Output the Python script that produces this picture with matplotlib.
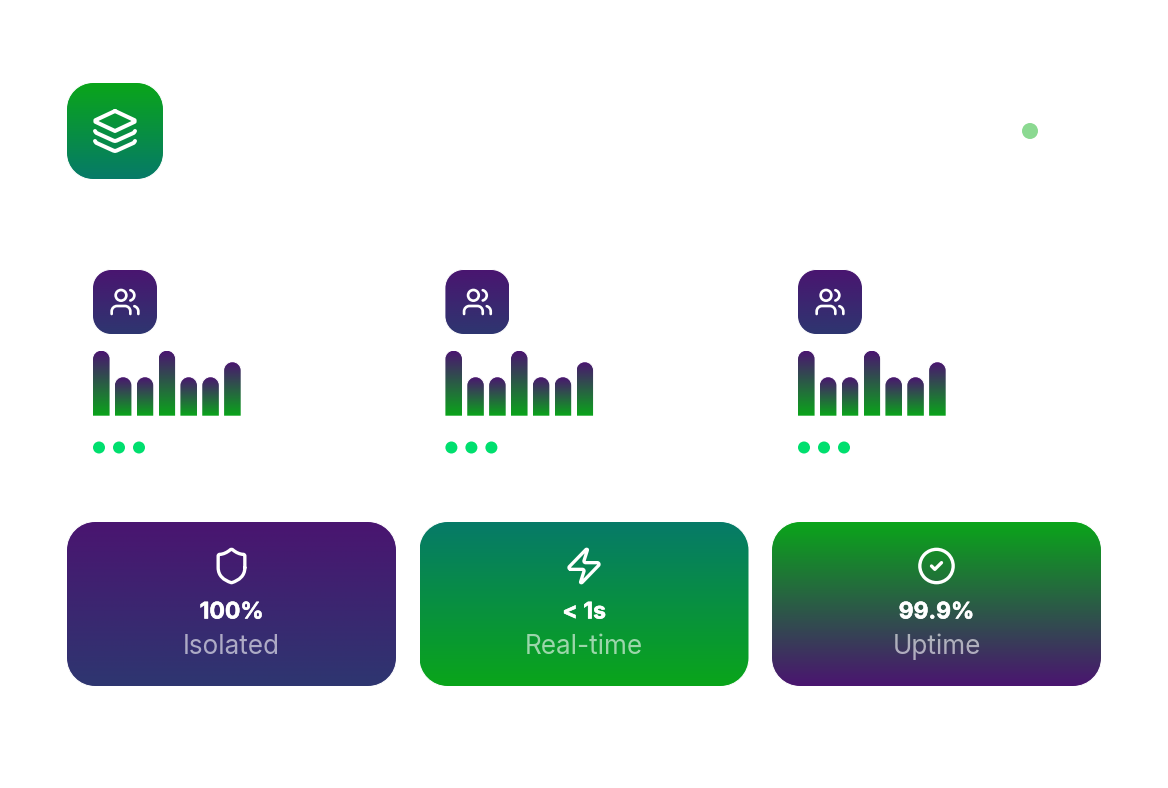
#!/usr/bin/env python
import numpy as np
from matplotlib import pyplot as plt
from matplotlib import patheffects as pe
from matplotlib.colors import to_rgb
from matplotlib.patches import Circle, PathPatch
from matplotlib.path import Path

PURPLE = "#4a1570"
INDIGO = "#2e3670"
GREEN = "#0aa51a"
TEAL = "#067a68"

bar_heights = [65, 38.5, 38.5, 65, 38.5, 38.5, 53.5]
card_values = ["100%", "< 1s", "99.9%"]
card_labels = ["Isolated", "Real-time", "Uptime"]
card_colors = [(PURPLE, INDIGO), (TEAL, GREEN), (GREEN, PURPLE)]
panel_lefts = [93, 445.4, 798]
card_lefts = [67, 419.5, 772]

plt.rcParams['font.family'] = ['Inter', 'DejaVu Sans']

fig = plt.figure(figsize=(11.68, 7.88), dpi=100)
ax = fig.add_axes([0, 0, 1, 1])


def gradient(top, bottom):
    t = np.linspace(0, 1, 256)[:, None, None]
    return (1 - t) * np.array(to_rgb(top))[None, None, :] + t * np.array(to_rgb(bottom))[None, None, :]


def curve(start, *segs):
    verts = [start]
    codes = [Path.MOVETO]
    for s in segs:
        if len(s) == 2:
            verts.append(s)
            codes.append(Path.LINETO)
        else:
            verts += [s[:2], s[2:4], s[4:6]]
            codes += [Path.CURVE4] * 3
    return Path(verts, codes)


def round_rect(x0, y0, x1, y1, rt, rb):
    kt = rt * 0.448
    kb = rb * 0.448
    return curve((x0 + rt, y0), (x1 - rt, y0), (x1 - kt, y0, x1, y0 + kt, x1, y0 + rt),
                 (x1, y1 - rb), (x1, y1 - kb, x1 - kb, y1, x1 - rb, y1),
                 (x0 + rb, y1), (x0 + kb, y1, x0, y1 - kb, x0, y1 - rb),
                 (x0, y0 + rt), (x0, y0 + kt, x0 + kt, y0, x0 + rt, y0))


def fill_gradient(x0, y0, x1, y1, rt, rb, top, bottom):
    # clip a bit outside, then a white line on top gives a smooth edge
    shape = round_rect(x0 - 0.5, y0 - 0.5, x1 + 0.5, y1 + 0.5, rt + 0.5, rb + 0.5 if rb else 0)
    clip = PathPatch(shape, fc="none", ec="white", lw=0.72, zorder=3)
    ax.add_patch(clip)
    im = ax.imshow(gradient(top, bottom), extent=(x0, x1, y1, y0), aspect="auto", interpolation="bilinear", zorder=2)
    im.set_clip_path(clip)


def stroke(path, x0, y0, scale, lw):
    # icon paths are in a 24 unit box
    verts = path.vertices * scale + np.array([x0, y0])
    ax.add_patch(PathPatch(Path(verts, path.codes), fc="none", ec="white", lw=lw * 0.72,
                           capstyle="round", joinstyle="round", zorder=4))


def circle_path(cx, cy, r):
    c = Path.unit_circle()
    return Path(c.vertices * r + np.array([cx, cy]), c.codes)


layers_icon = [
    Path([(12, 2), (2.2, 6.6), (2.2, 7.4), (12, 12), (21.8, 7.4), (21.8, 6.6), (12, 2)]),
    curve((2, 12), (2.6, 12.9), (11.2, 16.8), (12, 17), (12.8, 16.8), (21.4, 12.9), (22, 12)),
    curve((2, 17), (2.6, 17.9), (11.2, 21.8), (12, 22), (12.8, 21.8), (21.4, 17.9), (22, 17)),
]
users_icon = [
    curve((16, 21), (16, 19), (16, 16.8, 14.2, 15, 12, 15), (6, 15), (3.8, 15, 2, 16.8, 2, 19), (2, 21)),
    circle_path(9, 7, 4),
    curve((22, 21), (22, 19), (22, 17.2, 20.7, 15.6, 19, 15.13)),
    curve((16, 3.13), (17.8, 3.6, 19, 5.2, 19, 7), (19, 8.8, 17.8, 10.4, 16, 10.88)),
]
shield_icon = [
    curve((20, 13), (20, 18, 16.5, 20.5, 12.34, 21.95), (12.1, 22, 11.9, 22, 11.67, 21.94),
          (7.5, 20.5, 4, 18, 4, 13), (4, 6), (4, 5.4, 4.4, 5, 5, 5), (7, 5, 9.5, 3.8, 11.24, 2.28),
          (11.7, 1.9, 12.3, 1.9, 12.76, 2.28), (14.51, 3.81, 17, 5, 19, 5), (19.6, 5, 20, 5.4, 20, 6), (20, 13)),
]
bolt_icon = [
    curve((4, 14), (3.1, 14, 2.7, 12.9, 3.22, 12.37), (13.12, 2.17), (13.6, 1.7, 14.3, 2.1, 13.98, 2.63),
          (12.06, 8.65), (11.8, 9.3, 12.2, 10, 13, 10), (20, 10), (20.9, 10, 21.3, 11.1, 20.78, 11.63),
          (10.88, 21.83), (10.4, 22.3, 9.7, 21.9, 10.02, 21.37), (11.94, 15.35), (12.2, 14.7, 11.8, 14, 11, 14), (4, 14)),
]
check_icon = [circle_path(12, 12, 10), Path([(9, 12), (11, 14), (15, 10)])]
card_icons = [shield_icon, bolt_icon, check_icon]

# header
fill_gradient(67, 83, 163, 179, 26, 26, GREEN, TEAL)
for p in layers_icon:
    stroke(p, 91, 107, 2, 4)
ax.add_patch(Circle((1030, 131), 8, fc="#8bd991", ec="none", zorder=3))

# panels
for left in panel_lefts:
    fill_gradient(left, 270, left + 64, 334, 18, 18, PURPLE, INDIGO)
    for p in users_icon:
        stroke(p, left + 16, 286, 4 / 3, 2.67)

    bars = ax.bar(left + 8.3 + 21.85 * np.arange(len(bar_heights)), -np.array(bar_heights), width=16.6,
                  bottom=415.7, color="none", zorder=1)
    for b in bars:
        x0, x1 = b.get_x(), b.get_x() + b.get_width()
        y1 = b.get_y()
        y0 = y1 + b.get_height()
        fill_gradient(x0, y0, x1, y1, b.get_width() / 2, 0, PURPLE, GREEN)

    for i in range(3):
        ax.add_patch(Circle((left + 6 + 20 * i, 447.5), 6, fc="#00df6e", ec="none", zorder=3))

# cards
for left, value, label, cols, icon in zip(card_lefts, card_values, card_labels, card_colors, card_icons):
    fill_gradient(left, 522, left + 329, 686, 28, 28, cols[0], cols[1])
    cx = left + 164.5
    for p in icon:
        stroke(p, cx - 20, 546, 40 / 24, 3.33)
    ax.text(cx, 618.5, value, color="white", fontsize=16.5, fontweight="bold", ha="center", va="baseline", zorder=5,
            path_effects=[pe.withStroke(linewidth=0.4, foreground="white")])
    ax.text(cx, 654.5, label, color="white", alpha=0.6, fontsize=18.8, ha="center", va="baseline", zorder=5)

ax.set_xlim(0, 1168)
ax.set_ylim(788, 0)
ax.axis("off")
fig.savefig("out.png", dpi=100, facecolor="white")
